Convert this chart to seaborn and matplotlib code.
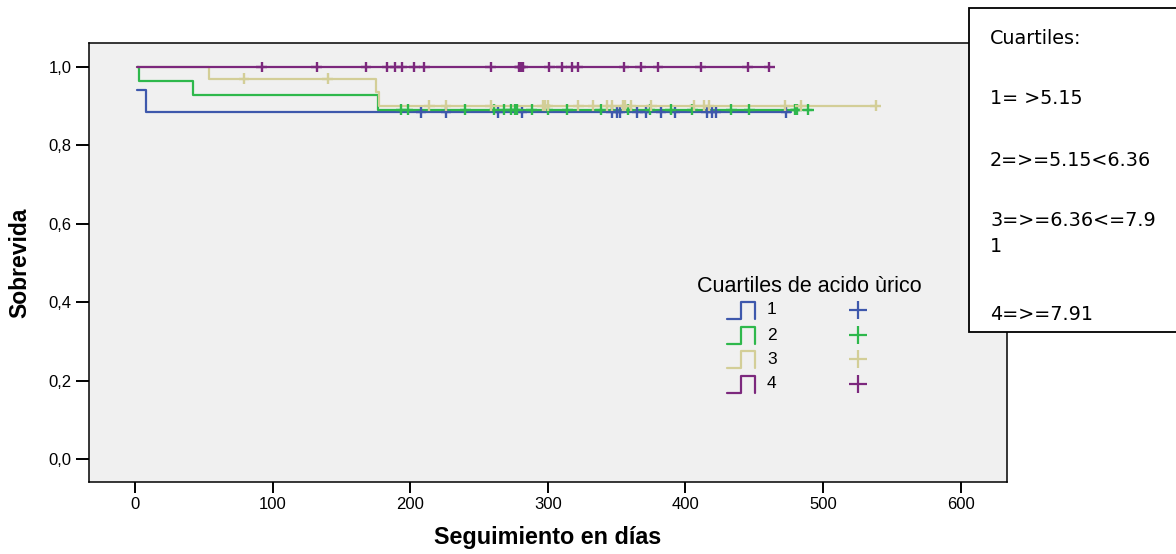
import numpy as np
import pandas as pd
import matplotlib
matplotlib.use("Agg")
import matplotlib.pyplot as plt
import seaborn as sns
from matplotlib.ticker import FuncFormatter, FixedLocator
from matplotlib.patches import Rectangle
from matplotlib.lines import Line2D

# ---- Kaplan-Meier estimates per uric-acid quartile ----
groups = ["1", "2", "3", "4"]
colors = ["#3E58AC", "#2EB84C", "#D3CE97", "#7C287D"]

start_time = 1.2
start_surv = [0.941, 1.0, 1.0, 1.0]

event_times_1 = [8.0]
event_surv_1 = [0.884]
event_times_2 = [2.9, 41.9, 176.8]
event_surv_2 = [0.964, 0.928, 0.891]
event_times_3 = [53.8, 175.1, 177.3]
event_surv_3 = [0.970, 0.936, 0.901]
event_times_4 = []
event_surv_4 = []

end_times = [477.0, 492.0, 538.3, 461.0]

censor_1 = [207.8, 226.0, 264.0, 281.3, 346.4, 350.5, 352.5, 365.0, 371.1,
            382.3, 392.2, 415.5, 419.1, 422.2, 473.1]
censor_2 = [193.3, 198.2, 240.0, 260.9, 268.2, 273.3, 275.9, 277.8, 288.3,
            300.1, 314.2, 338.4, 358.3, 374.3, 389.3, 405.0, 433.4, 446.4,
            479.7, 481.0, 489.3]
censor_3 = [79.2, 140.0, 213.9, 226.0, 258.5, 296.3, 298.2, 299.9, 322.2,
            333.1, 343.2, 346.7, 354.4, 356.4, 360.5, 375.2, 406.2, 413.5,
            417.0, 472.4, 483.8, 538.3]
censor_4 = [92.1, 132.0, 167.9, 183.4, 189.0, 194.0, 203.0, 210.2, 258.5,
            279.3, 280.3, 281.8, 301.1, 310.1, 317.4, 321.7, 355.4, 367.5,
            380.1, 411.1, 445.3, 461.0]

x_ticks = [0, 100, 200, 300, 400, 500, 600]
y_ticks = [0.0, 0.2, 0.4, 0.6, 0.8, 1.0]

legend_title = "Cuartiles de acido ùrico"
note_lines = ["Cuartiles:", "1= >5.15", "2=>=5.15<6.36", "3=>=6.36<=7.9",
              "1", "4=>=7.91"]

event_times = [event_times_1, event_times_2, event_times_3, event_times_4]
event_surv = [event_surv_1, event_surv_2, event_surv_3, event_surv_4]
censors = [censor_1, censor_2, censor_3, censor_4]

# ---- tidy tables for seaborn ----
step_rows, cens_rows = [], []
for g, s0, et, es, te, ct in zip(groups, start_surv, event_times, event_surv,
                                 end_times, censors):
    times = [start_time] + list(et) + [te]
    survs = [s0] + list(es) + [(list(es) or [s0])[-1]]
    for t, s in zip(times, survs):
        step_rows.append({"t": t, "s": s, "grupo": g})
    knots = np.array([start_time] + list(et))
    levels = np.array([s0] + list(es))
    for t in ct:
        idx = np.searchsorted(knots, t, side="right") - 1
        cens_rows.append({"t": t, "s": levels[idx], "grupo": g})
steps = pd.DataFrame(step_rows)
cens = pd.DataFrame(cens_rows)
palette = dict(zip(groups, colors))

# ---- figure ----
sns.set_style("ticks")
plt.rcParams["font.family"] = ["Liberation Sans", "DejaVu Sans"]
plt.rcParams["text.color"] = "black"
plt.rcParams["axes.labelcolor"] = "black"
plt.rcParams["xtick.color"] = "black"
plt.rcParams["ytick.color"] = "black"

W, H = 1176, 554
fig = plt.figure(figsize=(W / 100, H / 100), dpi=100, facecolor="white")
ax = fig.add_axes([89 / W, 1 - 482 / H, (1007 - 89) / W, (482 - 43) / H])
ax.set_facecolor("#F0F0F0")

sns.lineplot(data=steps, x="t", y="s", hue="grupo", palette=palette,
             drawstyle="steps-post", estimator=None, sort=False,
             legend=False, linewidth=1.6, ax=ax)
sns.scatterplot(data=cens, x="t", y="s", hue="grupo", palette=palette,
                marker="+", s=60, linewidth=1.7, legend=False, ax=ax,
                zorder=3)

ax.set_xlim(-33.4, 633.7)
ax.set_ylim(-0.0586, 1.061)
ax.xaxis.set_major_locator(FixedLocator(x_ticks))
ax.yaxis.set_major_locator(FixedLocator(y_ticks))
ax.yaxis.set_major_formatter(
    FuncFormatter(lambda v, p: f"{v:.1f}".replace(".", ",")))
ax.tick_params(axis="both", direction="out", width=1.4, color="black",
               labelsize=12, pad=3, labelcolor="black")
ax.tick_params(axis="x", length=8)
ax.tick_params(axis="y", length=9.5)
for sp in ax.spines.values():
    sp.set_color("black")
    sp.set_linewidth(1.1)
    sp.set_visible(True)

ax.set_xlabel("Seguimiento en días", fontsize=16.8, fontweight="bold",
              labelpad=10, color="black")
ax.set_ylabel("Sobrevida", fontsize=16.5, fontweight="bold", labelpad=12,
              color="black")


def fx(px):
    return px / W


def fy(py):
    return 1 - py / H


# ---- group key inside the plotting area ----
fig.text(fx(809), fy(287), legend_title, ha="center", va="center",
         fontsize=15.5, color="black")
row_y = [310, 335, 359, 384]
for g, c, yc in zip(groups, colors, row_y):
    top, bot = yc - 8.5, yc + 8.5
    xs = [727, 741, 741, 755, 755]
    ys = [bot, bot, top, top, bot]
    fig.add_artist(Line2D([fx(v) for v in xs], [fy(v) for v in ys],
                          color=c, linewidth=1.6))
    fig.text(fx(767), fy(yc), g, ha="left", va="center", fontsize=12.5,
             color="black")
    fig.add_artist(Line2D([fx(858)], [fy(yc)], marker="+", markersize=13,
                          markeredgewidth=1.6, color=c, linestyle="none"))

# ---- quartile note box ----
fig.add_artist(Rectangle((fx(969), fy(332)), fx(1190) - fx(969),
                         fy(8) - fy(332), transform=fig.transFigure,
                         facecolor="white", edgecolor="black",
                         linewidth=1.3, clip_on=False, zorder=1))
note_y = [39, 99, 160, 220, 246, 315]
for txt, yy in zip(note_lines, note_y):
    fig.text(fx(990), fy(yy), txt, ha="left", va="center", fontsize=13.8,
             family=["DejaVu Sans"], color="black", zorder=4)

fig.savefig("out.png", dpi=100, facecolor="white")
